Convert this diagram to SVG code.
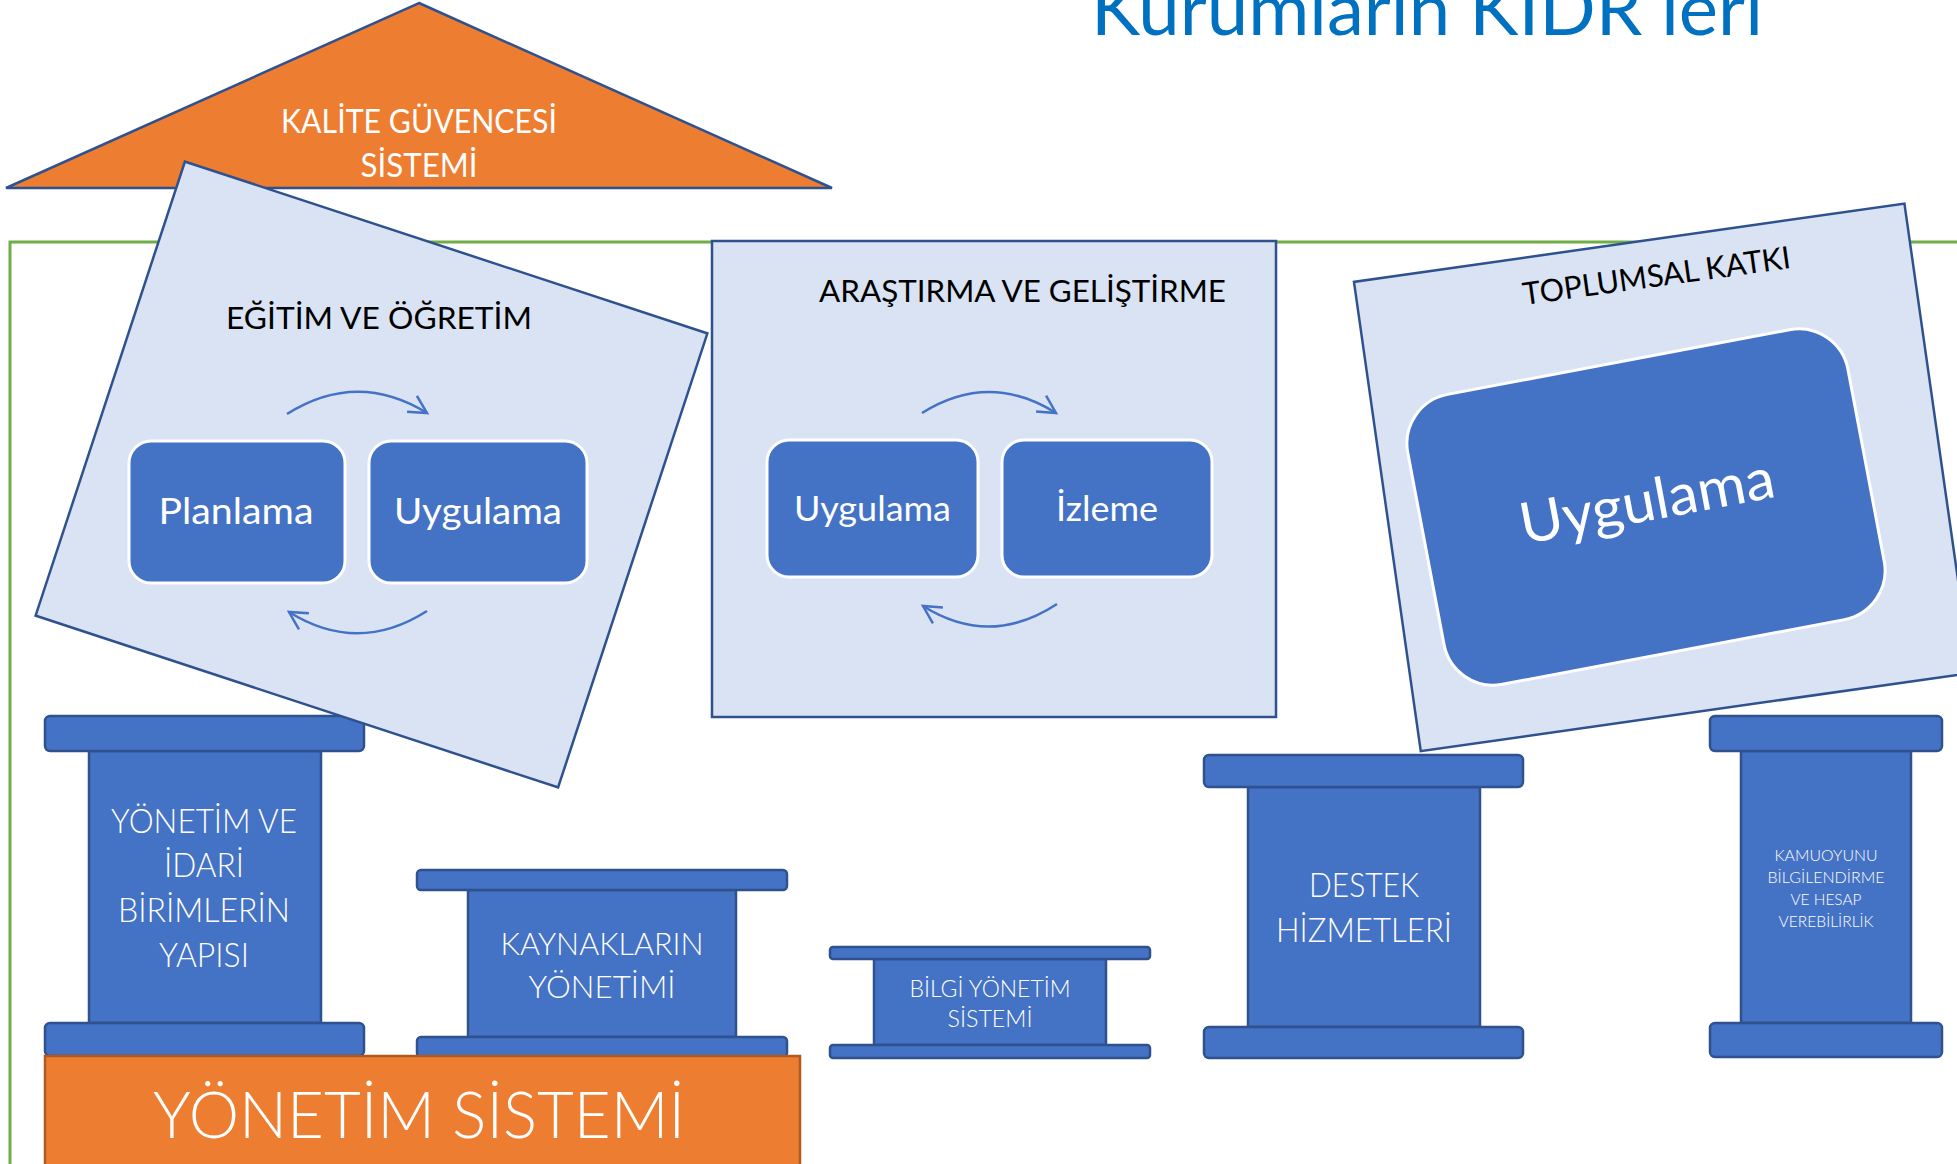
<svg xmlns="http://www.w3.org/2000/svg" width="1957" height="1164" viewBox="0 0 1957 1164">
<defs>
<style>
text { font-family: Lato, "Open Sans", "Liberation Sans", sans-serif; }
.panel { fill: #DAE3F3; stroke: #2F528F; stroke-width: 2.5; }
.step { fill: #4472C4; stroke: #FFFFFF; stroke-width: 3; }
.col { fill: #4472C4; stroke: #2F528F; stroke-width: 2.5; }
.wt { fill: #FFFFFF; text-anchor: middle; }
.lt { font-weight: 300; }
.bk { fill: #000000; text-anchor: middle; }
.cyc { fill: none; stroke: #4472C4; stroke-width: 2.5; marker-end: url(#chev); }
</style>
<marker id="chev" markerUnits="userSpaceOnUse" markerWidth="40" markerHeight="40" viewBox="-20 -20 40 40" refX="0" refY="0" orient="auto" overflow="visible">
<path d="M-17.6,-9.4 L0,0 L-17.6,9.4" fill="none" stroke="#4472C4" stroke-width="2.5"/>
</marker>
</defs>
<rect width="1957" height="1164" fill="#FFFFFF"/>

<g id="title">
<text x="1091" y="35" font-size="73" fill="#0070C0" textLength="672" lengthAdjust="spacingAndGlyphs">Kurumların KİDR leri</text>
</g>

<g id="frame">
<rect x="10" y="242" width="2000" height="1000" fill="none" stroke="#70AD47" stroke-width="3"/>
</g>

<g id="roof">
<polygon points="419,3 832,188 6,188" fill="#ED7D31" stroke="#2F528F" stroke-width="2.5"/>
<text class="wt" x="419" y="133" font-size="32" textLength="276" lengthAdjust="spacingAndGlyphs">KALİTE GÜVENCESİ</text>
<text class="wt" x="419" y="177" font-size="32" textLength="117" lengthAdjust="spacingAndGlyphs">SİSTEMİ</text>
</g>

<g id="col-yonetim-idari">
<rect class="col" x="89" y="751" width="232" height="272"/>
<rect class="col" x="45" y="716" width="319" height="35" rx="5"/>
<rect class="col" x="45" y="1023" width="319" height="33" rx="5"/>
<text class="wt lt" font-size="32.5"><tspan x="204" y="833" textLength="186" lengthAdjust="spacingAndGlyphs">YÖNETİM VE</tspan><tspan x="204" y="877" textLength="80" lengthAdjust="spacingAndGlyphs">İDARİ</tspan><tspan x="204" y="922" textLength="172" lengthAdjust="spacingAndGlyphs">BİRİMLERİN</tspan><tspan x="204" y="967" textLength="90" lengthAdjust="spacingAndGlyphs">YAPISI</tspan></text>
</g>

<g id="col-kaynaklar">
<rect class="col" x="468" y="890" width="268" height="147"/>
<rect class="col" x="417" y="870" width="370" height="20" rx="4"/>
<rect class="col" x="417" y="1037" width="370" height="20" rx="4"/>
<text class="wt lt" font-size="31.5"><tspan x="602" y="955" textLength="203" lengthAdjust="spacingAndGlyphs">KAYNAKLARIN</tspan><tspan x="602" y="998" textLength="147" lengthAdjust="spacingAndGlyphs">YÖNETİMİ</tspan></text>
</g>

<g id="col-bilgi">
<rect class="col" x="874" y="959" width="232" height="86"/>
<rect class="col" x="830" y="947" width="320" height="12" rx="3"/>
<rect class="col" x="830" y="1045" width="320" height="13" rx="3"/>
<text class="wt lt" font-size="23.5"><tspan x="990" y="997" textLength="161" lengthAdjust="spacingAndGlyphs">BİLGİ YÖNETİM</tspan><tspan x="990" y="1027" textLength="85" lengthAdjust="spacingAndGlyphs">SİSTEMİ</tspan></text>
</g>

<g id="col-destek">
<rect class="col" x="1248" y="787" width="232" height="240"/>
<rect class="col" x="1204" y="755" width="319" height="32" rx="5"/>
<rect class="col" x="1204" y="1027" width="319" height="31" rx="5"/>
<text class="wt lt" font-size="32.5"><tspan x="1364" y="897" textLength="110" lengthAdjust="spacingAndGlyphs">DESTEK</tspan><tspan x="1364" y="942" textLength="176" lengthAdjust="spacingAndGlyphs">HİZMETLERİ</tspan></text>
</g>

<g id="col-kamuoyu">
<rect class="col" x="1741" y="751" width="170" height="272"/>
<rect class="col" x="1710" y="716" width="232" height="35" rx="5"/>
<rect class="col" x="1710" y="1023" width="232" height="34" rx="5"/>
<text class="wt lt" font-size="16.5"><tspan x="1826" y="861" textLength="103" lengthAdjust="spacingAndGlyphs">KAMUOYUNU</tspan><tspan x="1826" y="883" textLength="117" lengthAdjust="spacingAndGlyphs">BİLGİLENDİRME</tspan><tspan x="1826" y="905" textLength="71" lengthAdjust="spacingAndGlyphs">VE HESAP</tspan><tspan x="1826" y="927" textLength="95" lengthAdjust="spacingAndGlyphs">VEREBİLİRLİK</tspan></text>
</g>

<g id="yonetim-sistemi">
<rect x="45" y="1056" width="755" height="130" fill="#ED7D31" stroke="#AE5A21" stroke-width="2.5"/>
<text class="wt lt" x="419" y="1138" font-size="66" textLength="532" lengthAdjust="spacingAndGlyphs">YÖNETİM SİSTEMİ</text>
</g>

<g id="egitim">
<rect class="panel" x="-275" y="-239" width="550" height="478" transform="translate(371.5,474.5) rotate(18.2)"/>
<text class="bk" x="379" y="329" font-size="31" textLength="306" lengthAdjust="spacingAndGlyphs">EĞİTİM VE ÖĞRETİM</text>
<g id="egitim-planlama">
<rect class="step" x="129" y="441" width="216" height="142" rx="22"/>
<text class="wt" x="236" y="524" font-size="37" textLength="155" lengthAdjust="spacingAndGlyphs">Planlama</text>
</g>
<g id="egitim-uygulama">
<rect class="step" x="369" y="441" width="218" height="142" rx="22"/>
<text class="wt" x="478" y="524" font-size="37" textLength="168" lengthAdjust="spacingAndGlyphs">Uygulama</text>
</g>
</g>

<g id="arastirma">
<rect class="panel" x="712" y="241" width="564" height="476"/>
<text class="bk" x="1022.5" y="302" font-size="31" textLength="407" lengthAdjust="spacingAndGlyphs">ARAŞTIRMA VE GELİŞTİRME</text>
<g id="arastirma-uygulama">
<rect class="step" x="767" y="440" width="211" height="137" rx="22"/>
<text class="wt" x="872.5" y="521" font-size="34.5" textLength="157" lengthAdjust="spacingAndGlyphs">Uygulama</text>
</g>
<g id="arastirma-izleme">
<rect class="step" x="1002" y="440" width="210" height="137" rx="22"/>
<text class="wt" x="1107" y="521" font-size="34.5" textLength="102" lengthAdjust="spacingAndGlyphs">İzleme</text>
</g>
</g>

<g id="toplumsal">
<rect class="panel" x="-278" y="-237" width="556" height="474" transform="translate(1662.6,477.4) rotate(-8.1)"/>
<text class="bk" x="1658" y="286.5" font-size="31" textLength="270" lengthAdjust="spacingAndGlyphs" transform="rotate(-7.9 1658 286.5)">TOPLUMSAL KATKI</text>
<g id="toplumsal-uygulama" transform="translate(1646,507) rotate(-10.7)">
<rect class="step" x="-224" y="-147.5" width="448" height="295" rx="50"/>
<text class="wt" x="2" y="14" font-size="57" textLength="258" lengthAdjust="spacingAndGlyphs">Uygulama</text>
</g>
</g>

<g id="connectors">
<path class="cyc" d="M287,414 Q357,370 427,413"/>
<path class="cyc" d="M427,611 Q358,655 289,612"/>
<path class="cyc" d="M922,413 Q989,371 1056,413"/>
<path class="cyc" d="M1057,604 Q990,648 923,606"/>
</g>
</svg>
